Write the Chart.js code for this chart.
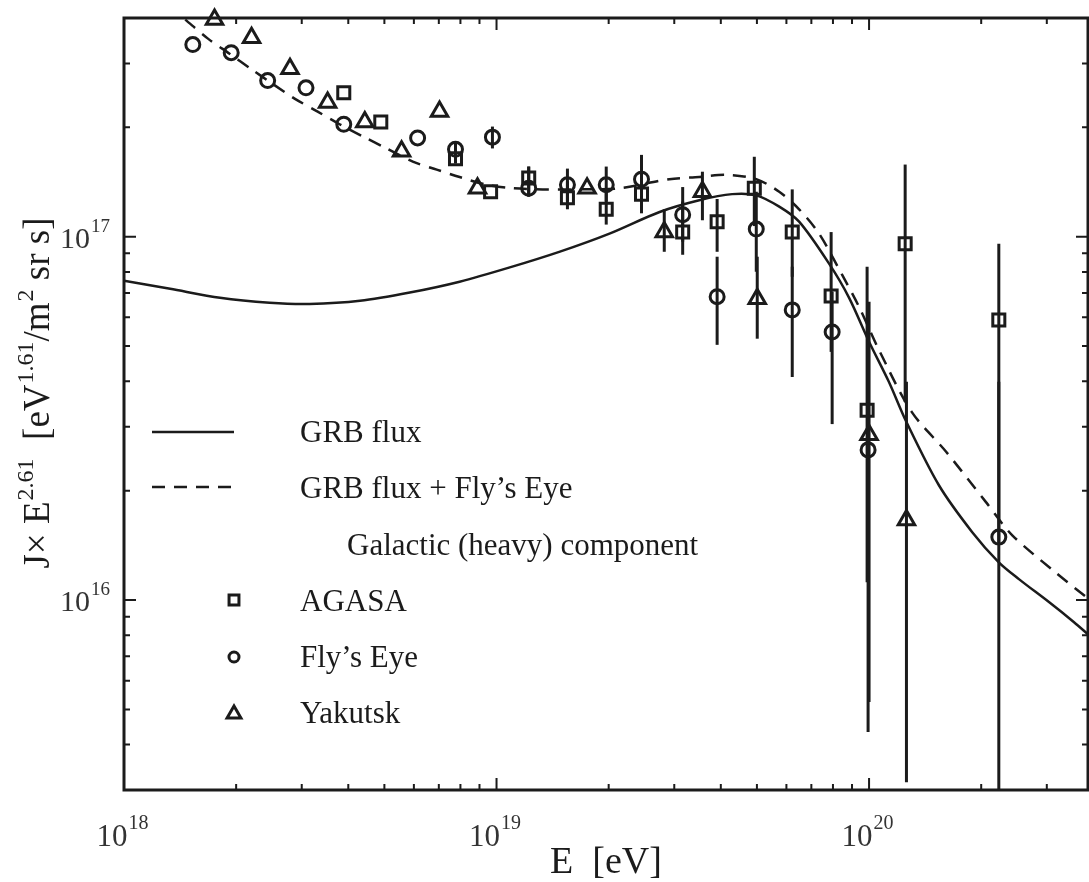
<!DOCTYPE html>
<html>
<head>
<meta charset="utf-8">
<script src="https://cdn.jsdelivr.net/npm/chart.js@4.4.1/dist/chart.umd.min.js"></script>
<style>
  html, body { margin: 0; padding: 0; background: #fff; }
  #wrap { width: 1089px; height: 882px; }
</style>
</head>
<body>
<div id="wrap"><canvas id="chart" width="1089" height="882"></canvas></div>
<script>
// ========== DATA ========== //
const xMajor = [1e18, 1e19, 1e20];
const xLabels = ["18", "19", "20"];
const yMajor = [1e16, 1e17];
const yLabels = ["16", "17"];

// GRB flux (solid curve)
const grbE = [1.0e18, 1.33e18, 1.81e18, 2.46e18, 3.15e18, 4.30e18, 5.85e18, 7.96e18, 1.08e19, 1.48e19,
              2.01e19, 2.74e19, 3.50e19, 4.29e19, 4.98e19, 5.74e19, 6.49e19, 7.81e19, 8.84e19, 1.0e20,
              1.13e20, 1.26e20, 1.54e20, 1.89e20, 2.23e20, 2.53e20, 3.04e20, 3.55e20, 3.87e20];
const grbJ = [7.57e16, 7.19e16, 6.79e16, 6.58e16, 6.53e16, 6.66e16, 7.02e16, 7.52e16, 8.22e16, 9.10e16,
              1.02e17, 1.17e17, 1.26e17, 1.31e17, 1.30e17, 1.21e17, 1.10e17, 8.43e16, 6.79e16, 5.14e16,
              3.99e16, 3.09e16, 2.07e16, 1.54e16, 1.27e16, 1.14e16, 9.87e15, 8.69e15, 8.05e15];

// GRB flux + Fly's Eye galactic component (dashed curve)
const sumE = [1.46e18, 1.68e18, 1.92e18, 2.20e18, 2.54e18, 2.87e18, 3.31e18, 3.79e18, 4.37e18, 5.07e18,
              5.96e18, 6.91e18, 7.96e18, 9.40e18, 1.10e19, 1.33e19, 1.67e19, 2.14e19, 2.91e19, 3.50e19,
              4.14e19, 4.98e19, 5.74e19, 6.49e19, 7.34e19, 8.47e19, 9.40e19, 1.06e20, 1.30e20, 1.61e20,
              2.06e20, 2.42e20, 3.17e20, 3.87e20];
const sumJ = [3.96e17, 3.51e17, 3.19e17, 2.89e17, 2.61e17, 2.40e17, 2.21e17, 2.04e17, 1.89e17, 1.75e17,
              1.61e17, 1.53e17, 1.46e17, 1.39e17, 1.36e17, 1.35e17, 1.35e17, 1.36e17, 1.44e17, 1.46e17,
              1.48e17, 1.44e17, 1.33e17, 1.19e17, 1.02e17, 7.85e16, 6.41e16, 4.91e16, 3.30e16, 2.56e16,
              1.86e16, 1.51e16, 1.19e16, 1.01e16];

// AGASA
const agasaE  = [3.89e18, 4.89e18, 7.76e18, 9.64e18, 1.22e19, 1.55e19, 1.97e19, 2.45e19, 3.16e19, 3.91e19,
                 4.92e19, 6.22e19, 7.91e19, 9.88e19, 1.25e20, 2.23e20];
const agasaJ  = [2.49e17, 2.07e17, 1.64e17, 1.33e17, 1.45e17, 1.28e17, 1.19e17, 1.31e17, 1.03e17, 1.10e17,
                 1.36e17, 1.03e17, 6.87e16, 3.33e16, 9.57e16, 5.90e16];
const agasaHi = [null, null, null, null, 1.56e17, 1.42e17, 1.33e17, 1.51e17, 1.25e17, 1.27e17,
                 1.66e17, 1.35e17, 1.03e17, 8.27e16, 1.58e17, 9.57e16];
const agasaLo = [null, null, null, null, 1.29e17, 1.19e17, 1.08e17, 1.16e17, 8.92e16, 9.09e16,
                 1.07e17, 7.76e16, 4.82e16, 1.12e16, 3.51e16, 1.44e16];

// Fly's Eye
const flyE  = [1.53e18, 1.94e18, 2.43e18, 3.08e18, 3.89e18, 6.14e18, 7.76e18, 9.75e18, 1.22e19, 1.55e19,
               1.97e19, 2.45e19, 3.16e19, 3.91e19, 4.98e19, 6.22e19, 7.96e19, 9.94e19, 2.23e20];
const flyJ  = [3.38e17, 3.21e17, 2.69e17, 2.57e17, 2.04e17, 1.87e17, 1.74e17, 1.88e17, 1.36e17, 1.39e17,
               1.39e17, 1.44e17, 1.15e17, 6.84e16, 1.05e17, 6.29e16, 5.47e16, 2.59e16, 1.49e16];
const flyHi = [null, null, null, null, null, null, 1.83e17, 2.01e17, 1.56e17, 1.54e17,
               1.56e17, 1.68e17, 1.37e17, 8.81e16, 1.33e17, 8.27e16, 7.06e16, 5.47e16, 3.99e16];
const flyLo = [null, null, null, null, null, null, 1.59e17, 1.75e17, 1.29e17, 1.25e17,
               1.25e17, 1.29e17, 9.69e16, 5.04e16, 8.01e16, 4.11e16, 3.05e16, 4.33e15, 2e15];

// Yakutsk
const yakE  = [1.75e18, 2.20e18, 2.79e18, 3.52e18, 4.43e18, 5.56e18, 7.03e18, 8.89e18, 1.75e19, 2.82e19,
               3.57e19, 5.01e19, 1.0e20, 1.26e20];
const yakJ  = [3.96e17, 3.53e17, 2.90e17, 2.34e17, 2.07e17, 1.72e17, 2.21e17, 1.36e17, 1.36e17, 1.03e17,
               1.33e17, 6.75e16, 2.85e16, 1.66e16];
const yakHi = [null, null, null, null, null, null, null, null, null, 1.19e17,
               1.51e17, 8.81e16, 6.62e16, 3.99e16];
const yakLo = [null, null, null, null, null, null, null, null, null, 9.09e16,
               1.11e17, 5.24e16, 5.24e15, 3.15e15];

// ========== STYLE ========== //
const ink = "#1b1b1b";
const serif = "'Liberation Serif', 'DejaVu Serif', serif";

function pts(xs, ys) {
  return xs.map((x, i) => ({ x: x, y: ys[i] }));
}

function supText(ctx, x, y, base, sup, align, fb, fs, rise) {
  ctx.font = fb;
  let wb = ctx.measureText(base).width;
  ctx.font = fs;
  let ws = ctx.measureText(sup).width;
  let x0 = x;
  if (align === "center") x0 = x - (wb + ws) / 2;
  if (align === "right") x0 = x - wb - ws;
  ctx.textAlign = "left";
  ctx.font = fb;
  ctx.fillText(base, x0, y);
  ctx.font = fs;
  ctx.fillText(sup, x0 + wb + 1, y - rise);
}

function marker(ctx, style, x, y, r) {
  ctx.beginPath();
  if (style === "rect") {
    let s = r * Math.SQRT1_2;
    ctx.rect(x - s, y - s, 2 * s, 2 * s);
  } else if (style === "circle") {
    ctx.arc(x, y, r, 0, Math.PI * 2);
  } else {
    ctx.moveTo(x, y - r);
    ctx.lineTo(x + r * 0.866, y + r * 0.5);
    ctx.lineTo(x - r * 0.866, y + r * 0.5);
    ctx.closePath();
  }
  ctx.stroke();
}

// ========== ERROR BARS ========== //
const errorBars = {
  id: "errorBars",
  beforeDatasetsDraw(chart) {
    const { ctx, chartArea: ca, scales: { x, y } } = chart;
    const sets = [[agasaE, agasaHi, agasaLo], [flyE, flyHi, flyLo], [yakE, yakHi, yakLo]];
    ctx.save();
    ctx.beginPath();
    ctx.rect(ca.left, ca.top, ca.right - ca.left, ca.bottom - ca.top);
    ctx.clip();
    ctx.strokeStyle = ink;
    ctx.lineWidth = 3;
    sets.forEach(([es, his, los]) => {
      es.forEach((e, i) => {
        if (his[i] == null) return;
        let px = x.getPixelForValue(e);
        ctx.beginPath();
        ctx.moveTo(px, y.getPixelForValue(his[i]));
        ctx.lineTo(px, y.getPixelForValue(los[i]));
        ctx.stroke();
      });
    });
    ctx.restore();
  }
};

// ========== FRAME, TICKS, LABELS, LEGEND ========== //
const decor = {
  id: "decor",
  afterDraw(chart) {
    const { ctx, chartArea: ca, scales: { x, y } } = chart;
    ctx.save();
    ctx.strokeStyle = ink;
    ctx.fillStyle = ink;

    // frame
    ctx.lineWidth = 3;
    ctx.strokeRect(ca.left, ca.top, ca.right - ca.left, ca.bottom - ca.top);

    // inward ticks
    ctx.lineWidth = 2;
    for (let d = 18; d <= 20; d++) {
      for (let m = 1; m <= 9; m++) {
        let v = m * Math.pow(10, d);
        if (v < x.min || v > x.max) continue;
        let px = x.getPixelForValue(v);
        let len = m === 1 ? 12 : 6;
        ctx.beginPath();
        ctx.moveTo(px, ca.bottom); ctx.lineTo(px, ca.bottom - len);
        ctx.moveTo(px, ca.top); ctx.lineTo(px, ca.top + len);
        ctx.stroke();
      }
    }
    for (let d = 15; d <= 17; d++) {
      for (let m = 1; m <= 9; m++) {
        let v = m * Math.pow(10, d);
        if (v < y.min || v > y.max) continue;
        let py = y.getPixelForValue(v);
        let len = m === 1 ? 12 : 6;
        ctx.beginPath();
        ctx.moveTo(ca.left, py); ctx.lineTo(ca.left + len, py);
        ctx.moveTo(ca.right, py); ctx.lineTo(ca.right - len, py);
        ctx.stroke();
      }
    }

    // tick labels
    ctx.fillStyle = "#333";
    ctx.textBaseline = "alphabetic";
    xMajor.forEach((v, i) => {
      supText(ctx, x.getPixelForValue(v) - 2, 846, "10", xLabels[i], "center",
              "31px " + serif, "20px " + serif, 17);
    });
    yMajor.forEach((v, i) => {
      supText(ctx, 109, y.getPixelForValue(v) + 11, "10", yLabels[i], "right",
              "30px " + serif, "19px " + serif, 16);
    });

    // axis titles
    ctx.fillStyle = ink;
    ctx.font = "38px " + serif;
    ctx.textAlign = "center";
    ctx.fillText("E  [eV]", 606, 873);

    const parts = [["J\u00d7 E", 0], ["2.61", 1], ["  [eV", 0], ["1.61", 1], ["/m", 0], ["2", 1], [" sr s]", 0]];
    const fb = "37px " + serif, fs = "24px " + serif;
    let total = 0;
    parts.forEach(p => { ctx.font = p[1] ? fs : fb; total += ctx.measureText(p[0]).width + (p[1] ? 1 : 0); });
    ctx.save();
    ctx.translate(49, 393 + total / 2);
    ctx.rotate(-Math.PI / 2);
    ctx.textAlign = "left";
    let cx = 0;
    parts.forEach(p => {
      ctx.font = p[1] ? fs : fb;
      ctx.fillText(p[0], cx + (p[1] ? 1 : 0), p[1] ? -16 : 0);
      cx += ctx.measureText(p[0]).width + (p[1] ? 1 : 0);
    });
    ctx.restore();

    // legend
    ctx.font = "31px " + serif;
    ctx.textAlign = "left";
    ctx.lineWidth = 2.5;
    ctx.beginPath();
    ctx.moveTo(152, 432); ctx.lineTo(234, 432);
    ctx.stroke();
    ctx.fillText("GRB flux", 300, 442);
    ctx.setLineDash([13, 9]);
    ctx.beginPath();
    ctx.moveTo(152, 487); ctx.lineTo(234, 487);
    ctx.stroke();
    ctx.setLineDash([]);
    ctx.fillText("GRB flux + Fly\u2019s Eye", 300, 498);
    ctx.fillText("Galactic (heavy) component", 347, 555);
    ctx.lineWidth = 3;
    marker(ctx, "rect", 234, 600, 7);
    ctx.fillText("AGASA", 300, 611);
    marker(ctx, "circle", 234, 657, 5);
    ctx.fillText("Fly\u2019s Eye", 300, 667);
    marker(ctx, "triangle", 234, 714, 8);
    ctx.fillText("Yakutsk", 300, 723);

    ctx.restore();
  }
};

// ========== CHART ========== //
new Chart(document.getElementById("chart"), {
  type: "scatter",
  data: {
    datasets: [
      {
        label: "GRB flux",
        data: pts(grbE, grbJ),
        showLine: true,
        borderColor: ink,
        borderWidth: 2.5,
        pointRadius: 0,
        tension: 0.3
      },
      {
        label: "GRB flux + Fly's Eye",
        data: pts(sumE, sumJ),
        showLine: true,
        borderColor: ink,
        borderWidth: 2.5,
        borderDash: [13, 9],
        pointRadius: 0,
        tension: 0.3
      },
      {
        label: "AGASA",
        data: pts(agasaE, agasaJ),
        pointStyle: "rect",
        pointRadius: 8.5,
        pointBorderWidth: 3,
        pointBorderColor: ink,
        pointBackgroundColor: "rgba(0,0,0,0)",
        clip: false
      },
      {
        label: "Fly's Eye",
        data: pts(flyE, flyJ),
        pointStyle: "circle",
        pointRadius: 7,
        pointBorderWidth: 3,
        pointBorderColor: ink,
        pointBackgroundColor: "rgba(0,0,0,0)",
        clip: false
      },
      {
        label: "Yakutsk",
        data: pts(yakE, yakJ),
        pointStyle: "triangle",
        pointRadius: 9.5,
        pointBorderWidth: 3,
        pointBorderColor: ink,
        pointBackgroundColor: "rgba(0,0,0,0)",
        clip: false
      }
    ]
  },
  options: {
    responsive: false,
    animation: false,
    layout: { autoPadding: false, padding: { top: 18, right: 1, left: 0, bottom: 0 } },
    plugins: { legend: { display: false }, tooltip: { enabled: false } },
    scales: {
      x: {
        type: "logarithmic",
        min: 1e18,
        max: 3.87e20,
        grid: { display: false },
        border: { display: false },
        ticks: { display: false },
        afterFit: s => { s.height = 92; }
      },
      y: {
        type: "logarithmic",
        min: 3e15,
        max: 4e17,
        grid: { display: false },
        border: { display: false },
        ticks: { display: false },
        afterFit: s => { s.width = 124; }
      }
    }
  },
  plugins: [errorBars, decor]
});
</script>
</body>
</html>
